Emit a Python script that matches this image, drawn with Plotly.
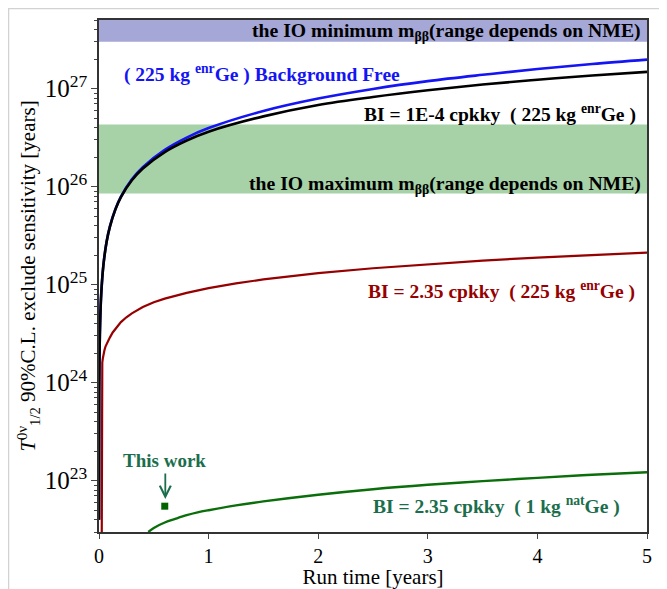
import math
import plotly.graph_objects as go

# ---- data ----
t_main = [0.0001, 0.002, 0.005, 0.01, 0.02, 0.04, 0.07, 0.1, 0.15, 0.2, 0.3, 0.4, 0.6, 0.8,
          1.0, 1.5, 2.0, 2.5, 3.0, 3.5, 4.0, 4.5, 5.0]
bkg_free = [4.0e22, 8.0e23, 2.0e24, 3.95e24, 7.9e24, 1.58e25, 2.77e25, 3.95e25, 5.9e25, 7.9e25,
            1.19e26, 1.58e26, 2.37e26, 3.16e26, 3.95e26, 5.9e26, 7.9e26, 9.9e26, 1.19e27,
            1.38e27, 1.58e27, 1.78e27, 1.97e27]
bi_1e4 = [4.0e22, 8.0e23, 2.0e24, 3.95e24, 7.9e24, 1.57e25, 2.75e25, 3.9e25, 5.85e25, 7.8e25,
          1.16e26, 1.53e26, 2.25e26, 2.95e26, 3.63e26, 5.2e26, 6.8e26, 8.2e26, 9.6e26,
          1.1e27, 1.23e27, 1.36e27, 1.48e27]

t_red = [0.0238, 0.024, 0.026, 0.03, 0.035, 0.04, 0.05, 0.06, 0.08, 0.1, 0.125, 0.15, 0.2,
         0.25, 0.3, 0.4, 0.5, 0.6, 0.8, 1.0, 1.25, 1.5, 2.0, 2.5, 3.0, 3.5, 4.0, 4.5, 5.0]
bi_235_enr = [1.0e22, 1.25e24, 1.4e24, 1.6e24, 1.77e24, 1.92e24, 2.15e24, 2.35e24, 2.65e24,
              2.9e24, 3.25e24, 3.55e24, 4.15e24, 4.65e24, 5.1e24, 5.9e24, 6.6e24, 7.2e24,
              8.25e24, 9.2e24, 1.03e25, 1.13e25, 1.31e25, 1.47e25, 1.62e25, 1.76e25,
              1.89e25, 2.0e25, 2.12e25]

t_green = [0.45, 0.5, 0.6, 0.7, 0.8, 0.9, 1.0, 1.25, 1.5, 2.0, 2.5, 3.0, 3.5, 4.0, 4.5, 5.0]
bi_235_nat = [3.0e22, 3.3e22, 3.75e22, 4.1e22, 4.45e22, 4.75e22, 5.0e22, 5.6e22, 6.15e22,
              7.2e22, 8.2e22, 9.1e22, 9.9e22, 1.07e23, 1.15e23, 1.22e23]

this_work_t = [0.6]
this_work_val = [5.5e22]

# bands: [low, high]
io_min_band = [3.0e27, 5.0e27]
io_max_band = [8.5e25, 4.3e26]

x_range = [0, 5]
y_range = [3e22, 5e27]

SERIF = "Liberation Serif"
L = math.log10

fig = go.Figure()

def band(lo, hi, color):
    fig.add_trace(go.Scatter(x=[x_range[0], x_range[1], x_range[1], x_range[0], x_range[0]],
                             y=[lo, lo, hi, hi, lo], fill="toself", mode="lines",
                             line=dict(width=0), fillcolor=color, hoverinfo="skip",
                             showlegend=False))

band(io_min_band[0], io_min_band[1], "rgb(165,167,214)")
band(io_max_band[0], io_max_band[1], "rgb(167,210,167)")

fig.add_trace(go.Scatter(x=t_main, y=bkg_free, mode="lines",
                         line=dict(color="rgb(20,20,245)", width=2.6, shape="spline"),
                         showlegend=False))
fig.add_trace(go.Scatter(x=t_main, y=bi_1e4, mode="lines",
                         line=dict(color="black", width=2.6, shape="spline"),
                         showlegend=False))
fig.add_trace(go.Scatter(x=t_red, y=bi_235_enr, mode="lines",
                         line=dict(color="rgb(150,0,0)", width=2.2, shape="linear"),
                         showlegend=False))
fig.add_trace(go.Scatter(x=t_green, y=bi_235_nat, mode="lines",
                         line=dict(color="rgb(10,110,10)", width=2.4, shape="spline"),
                         showlegend=False))
fig.add_trace(go.Scatter(x=this_work_t, y=this_work_val, mode="markers",
                         marker=dict(symbol="square", size=7, color="rgb(0,100,0)"),
                         showlegend=False))


def note(text, x, y, color, anchor="right", size=19.5):
    fig.add_annotation(text=text, x=x, y=L(y), xref="x", yref="y", showarrow=False,
                       xanchor=anchor, yanchor="middle",
                       font=dict(family=SERIF, size=size, color=color))

note("<b>the IO minimum m<sub>ββ</sub>(range depends on NME)</b>", 4.96, 3.85e27, "black", size=19.7)
note("<b>( 225 kg <sup>enr</sup>Ge ) Background Free</b>", 0.21, 1.42e27, "rgb(20,20,245)", anchor="left")
note("<b>BI = 1E-4 cpkky  ( 225 kg <sup>enr</sup>Ge )</b>", 4.92, 5.55e26, "black")
note("<b>the IO maximum m<sub>ββ</sub>(range depends on NME)</b>", 4.96, 1.06e26, "black", size=19.7)
note("<b>BI = 2.35 cpkky  ( 225 kg <sup>enr</sup>Ge )</b>", 4.91, 8.7e24, "rgb(150,0,0)")
note("<b>BI = 2.35 cpkky  ( 1 kg <sup>nat</sup>Ge )</b>", 4.77, 5.55e22, "rgb(27,110,76)")
note("<b>This work</b>", 0.60, 1.6e23, "rgb(27,110,76)", anchor="center", size=19)

fig.add_annotation(x=0.605, y=L(6.5e22), xref="x", yref="y", text="", showarrow=True,
                   ax=0, ay=-27, arrowhead=5, arrowsize=1.2, arrowwidth=1.8,
                   arrowcolor="rgb(27,110,76)")

# light frame at the figure's top and left edges
fig.add_shape(type="line", xref="paper", yref="paper", x0=-0.166, y0=1.0225, x1=1.1, y1=1.0225,
              line=dict(color="rgb(210,210,210)", width=1.5))
fig.add_shape(type="line", xref="paper", yref="paper", x0=-0.1651, y0=1.0225, x1=-0.1651, y1=-0.2,
              line=dict(color="rgb(210,210,210)", width=1.5))

fig.update_layout(
    width=659, height=581,
    margin=dict(l=91, r=20, t=12, b=57),
    plot_bgcolor="white", paper_bgcolor="white",
    font=dict(family=SERIF, color="black"),
    xaxis=dict(range=x_range, tickvals=[0, 1, 2, 3, 4, 5], ticks="outside", ticklen=5,
               tickwidth=1.2, showline=True, linecolor="#333", linewidth=1.5, mirror=True,
               showgrid=False, zeroline=False, tickfont=dict(family=SERIF, size=20),
               automargin=False,
               title=dict(text="Run time [years]", font=dict(family=SERIF, size=21), standoff=5)),
    yaxis=dict(type="log", range=[L(y_range[0]), L(y_range[1])], dtick=1,
               exponentformat="power", ticks="outside", ticklen=6, tickwidth=1.2,
               minor=dict(ticks="outside", ticklen=3, dtick="D1", tickwidth=1, showgrid=False),
               showline=True, linecolor="#333", linewidth=1.5, mirror=True, showgrid=False,
               zeroline=False, tickfont=dict(family=SERIF, size=20), automargin=False,
               title=dict(text="<i>T</i><sup>0ν</sup><sub>1/2</sub> 90%C.L. exclude sensitivity [years]",
                          font=dict(family=SERIF, size=21), standoff=3)),
)

fig.write_html("out.html")
